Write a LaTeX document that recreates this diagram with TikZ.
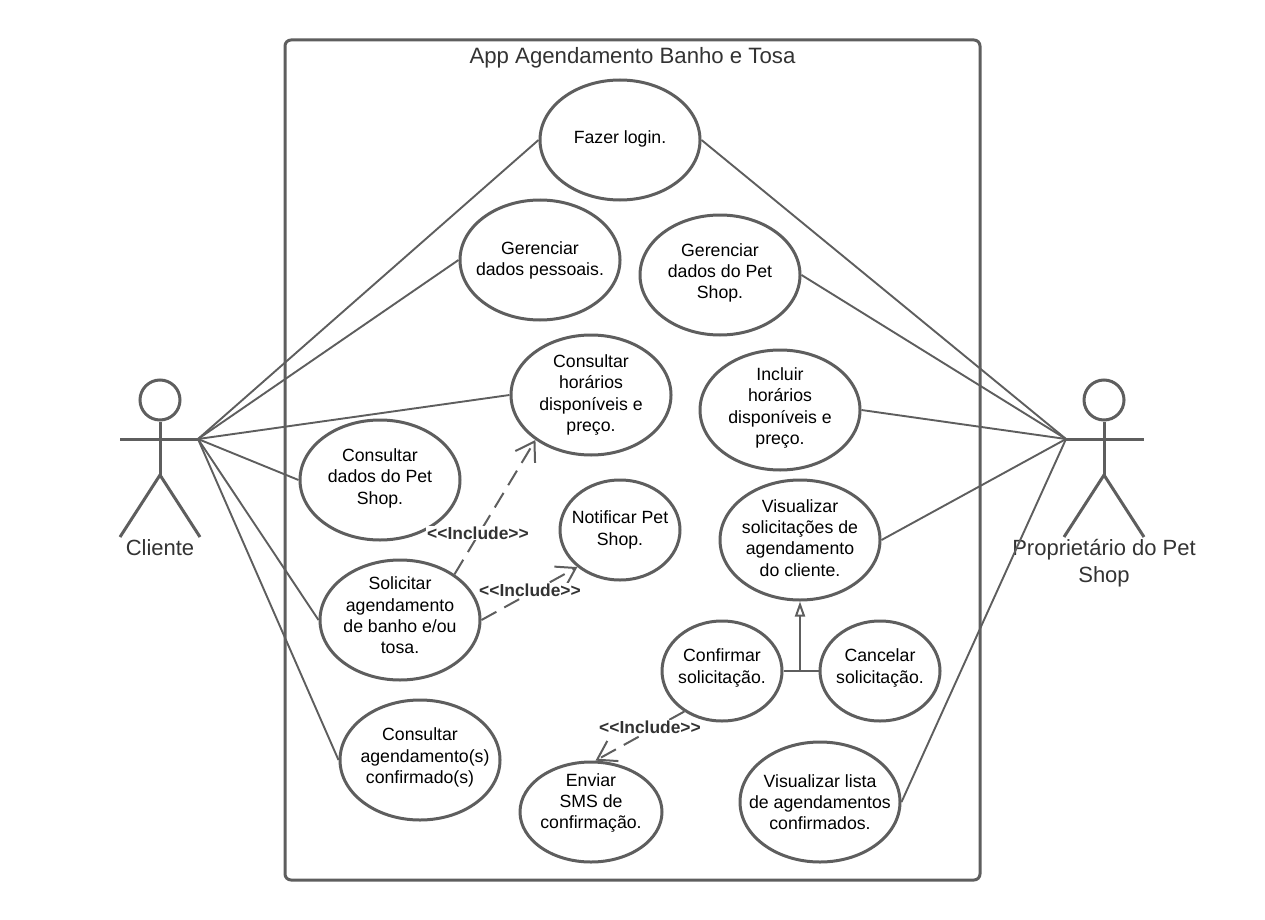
\documentclass[tikz,border=0pt]{standalone}
\usepackage{fontspec}
\setmainfont{Liberation Sans}
\usetikzlibrary{shapes.geometric,arrows.meta}
\definecolor{traco}{HTML}{5E5E5E}
\definecolor{texto}{HTML}{333333}
\newcommand{\incl}{{<}{<}Include{>}{>}}
\tikzset{
  usecase/.style={ellipse, draw=traco, line width=3pt, minimum width=160pt, minimum height=120pt, inner xsep=-45pt, inner ysep=-35pt, align=center, font=\fontsize{17.7}{21.3}\selectfont},
  usecasep/.style={usecase, minimum width=120pt, minimum height=100pt},
  assoc/.style={draw=traco, line width=1.9pt},
  incl/.style={draw=traco, line width=2pt, dash pattern=on 17pt off 9pt, -{Straight Barb[length=18pt,width=23pt,line width=2pt]}},
  incllabel/.style={fill=white, inner sep=1pt, text=texto, font=\fontsize{17.4}{20}\selectfont\bfseries},
  actorname/.style={text=texto, align=center, font=\fontsize{22}{27}\selectfont}
}
\begin{document}
\begin{tikzpicture}[x=1pt, y=-1pt]
  \useasboundingbox (0,0) rectangle (1265,920);
  % limite do sistema
  \node (sistema) at (632.5,460) [draw=traco, line width=3pt, rounded corners=6pt, minimum width=695pt, minimum height=840pt] {};
  \node (titulo) at (632.5,58) [text=texto, font=\fontsize{22.2}{26}\selectfont] {App Agendamento Banho e Tosa};

  % atores
  \foreach \ator/\px in {cliente/160, dono/1104} {
    \node (\ator) at (\px,400) [circle, draw=traco, line width=3pt, minimum size=40pt, inner sep=0pt] {};
    \coordinate (\ator quadril) at (\px,475);
    \coordinate (\ator esq) at (\px-40,439);
    \coordinate (\ator dir) at (\px+40,439);
    \coordinate (\ator pe1) at (\px-40,537);
    \coordinate (\ator pe2) at (\px+40,537);
    \draw[draw=traco, line width=3pt] (\ator) -- (\ator quadril);
    \draw[draw=traco, line width=3pt] (\ator esq) -- (\ator dir);
    \draw[draw=traco, line width=3pt] (\ator pe1) -- (\ator quadril) -- (\ator pe2);
  }
  \node (nomecliente) at (160,548) [actorname] {Cliente};
  \node (nomedono) at (1104,563) [actorname] {Proprietário do Pet\\Shop};

  % casos de uso
  \node (login) at (620,140) [usecase, text depth=5.8pt] {Fazer login.};
  \node (gerpessoais) at (540,260) [usecase, text depth=2.5pt] {Gerenciar\\dados pessoais.};
  \node (gerpet) at (720,275) [usecase, text depth=8pt] {Gerenciar\\dados do Pet\\Shop.};
  \node (horarios) at (591,395) [usecase] {Consultar\\horários\\disponíveis e\\preço.};
  \node (incluir) at (780,410) [usecase, text depth=8pt] {Incluir\\horários\\disponíveis e\\preço.};
  \node (consdados) at (380,480) [usecase, text depth=7pt] {Consultar\\dados do Pet\\Shop.};
  \node (notificar) at (620,530) [usecasep] {Notificar Pet\\Shop.};
  \node (solicitacoes) at (800,540) [usecase, text depth=4.5pt] {Visualizar\\solicitações de\\agendamento\\do cliente.};
  \node (solicitar) at (400,620) [usecase, text depth=9pt] {Solicitar\\agendamento\\de banho e/ou\\tosa.};
  \node (confirmar) at (722,671) [usecasep, text depth=10pt] {Confirmar\\solicitação.};
  \node (cancelar) at (880,671) [usecasep, text depth=10pt] {Cancelar\\solicitação.};
  \node (consagend) at (420,760) [usecase, text depth=8.5pt] {Consultar\\\hspace*{10pt}agendamento(s)\\confirmado(s)};
  \node (enviar) at (591,812) [usecase, minimum width=142pt, minimum height=100pt, text depth=22pt] {Enviar\\SMS de\\confirmação.};
  \node (lista) at (820,802) [usecase] {Visualizar lista\\de agendamentos\\confirmados.};

  % associacoes
  \coordinate (maocliente) at (198,439);
  \coordinate (maodono) at (1066,439);
  \foreach \caso in {login, gerpessoais, horarios, consdados, solicitar, consagend}
    \draw[assoc] (maocliente) -- (\caso.west);
  \foreach \caso in {login, gerpet, incluir, solicitacoes, lista}
    \draw[assoc] (maodono) -- (\caso.east);

  % generalizacao
  \coordinate (juncao) at (800,671);
  \draw[assoc] (confirmar.east) -- (cancelar.west);
  \draw[assoc, -{Triangle[open, length=15pt, width=10pt, line width=2pt]}] (juncao) -- (solicitacoes.south);

  % include
  \draw[incl] (solicitar.40) -- (horarios.219);
  \draw[incl] (solicitar.east) -- (notificar.221);
  \draw[incl] (confirmar.227) -- (enviar.85);
  \node (inclum) at (478,533) [incllabel] {\incl};
  \node (incldois) at (530,590) [incllabel] {\incl};
  \node (incltres) at (650,727) [incllabel] {\incl};
\end{tikzpicture}
\end{document}
